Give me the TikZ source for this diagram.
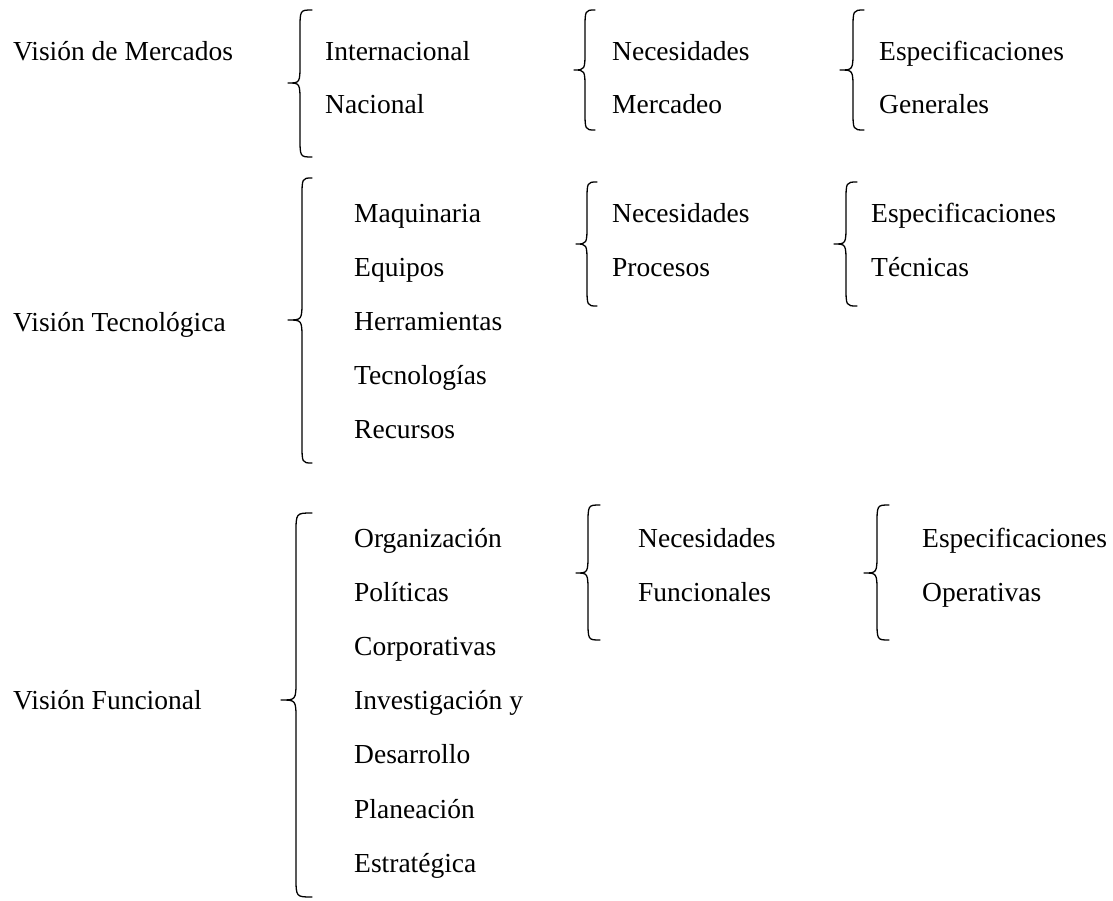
\documentclass[tikz,border=0pt]{standalone}
\usepackage{fontspec}
\setmainfont{Liberation Serif}
% curly brace: #1 spine x, #2 tip x, #3 hook-end x, #4 top y, #5 tip y, #6 bottom y
\newcommand{\curlybr}[6]{%
  \draw[bracepath] (#3,#4) .. controls (#1,#4) .. (#1,#4+20)
    -- (#1,#5-20) .. controls (#1,#5) .. (#2,#5)
    .. controls (#1,#5) .. (#1,#5+20)
    -- (#1,#6-20) .. controls (#1,#6) .. (#3,#6);}
\begin{document}
\begin{tikzpicture}[x=1pt,y=-1pt,
  lbl/.style={anchor=base west,inner sep=0pt,font=\fontsize{27.5}{33}\selectfont},
  bracepath/.style={line width=1.3pt,line cap=round,line join=round}]
\useasboundingbox (0,0) rectangle (1113,900);

% ---- market view ----
\node[lbl] (m0) at (13,60) {Visión de Mercados};
\curlybr{300}{288}{312}{10}{83}{157}
\node[lbl] (m1) at (325,60) {Internacional};
\node[lbl] (m2) at (325,113) {Nacional};
\curlybr{585}{574}{595}{10}{70}{130}
\node[lbl] (m3) at (612,60) {Necesidades};
\node[lbl] (m4) at (612,113) {Mercadeo};
\curlybr{853}{840}{864}{10}{70}{130}
\node[lbl] (m5) at (879,60) {Especificaciones};
\node[lbl] (m6) at (879,113) {Generales};

% ---- technological view ----
\node[lbl] (t0) at (13,331) {Visión Tecnológica};
\curlybr{302}{288}{312}{178}{320}{463}
\node[lbl] (t1) at (354,222) {Maquinaria};
\node[lbl] (t2) at (354,276) {Equipos};
\node[lbl] (t3) at (354,330) {Herramientas};
\node[lbl] (t4) at (354,384) {Tecnologías};
\node[lbl] (t5) at (354,438) {Recursos};
\curlybr{587}{576}{597}{182}{244}{306}
\node[lbl] (t6) at (612,222) {Necesidades};
\node[lbl] (t7) at (612,276) {Procesos};
\curlybr{846}{834}{857}{182}{244}{306}
\node[lbl] (t8) at (871,222) {Especificaciones};
\node[lbl] (t9) at (871,276) {Técnicas};

% ---- functional view ----
\node[lbl] (f0) at (13,709) {Visión Funcional};
\curlybr{296}{281}{312}{513}{700}{897}
\node[lbl] (f1) at (354,547) {Organización};
\node[lbl] (f2) at (354,601) {Políticas};
\node[lbl] (f3) at (354,655) {Corporativas};
\node[lbl] (f4) at (354,709) {Investigación y};
\node[lbl] (f5) at (354,763) {Desarrollo};
\node[lbl] (f6) at (354,818) {Planeación};
\node[lbl] (f7) at (354,872) {Estratégica};
\curlybr{588}{576}{600}{505}{573}{640}
\node[lbl] (f8) at (638,547) {Necesidades};
\node[lbl] (f9) at (638,601) {Funcionales};
\curlybr{877}{864}{889}{505}{573}{640}
\node[lbl] (f10) at (922,547) {Especificaciones};
\node[lbl] (f11) at (922,601) {Operativas};
\end{tikzpicture}
\end{document}
